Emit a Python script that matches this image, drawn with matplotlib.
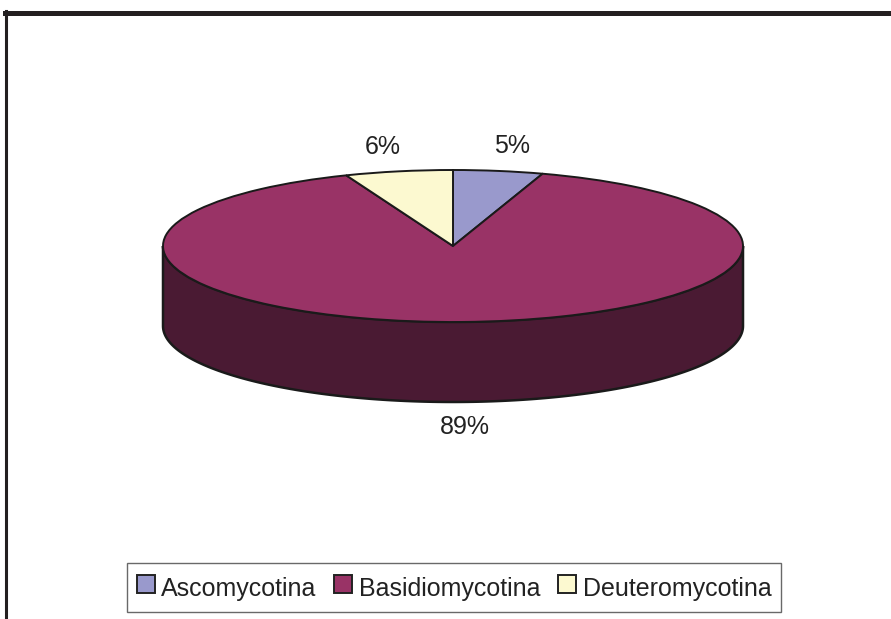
import numpy as np
import matplotlib
matplotlib.use("Agg")
import matplotlib.pyplot as plt
from matplotlib.patches import Polygon
from matplotlib.lines import Line2D

plt.rcParams['font.family'] = ['Liberation Sans', 'DejaVu Sans']

labels = ['Ascomycotina', 'Basidiomycotina', 'Deuteromycotina']
values = [5, 89, 6]
pct_labels = ['5%', '89%', '6%']
top_colors = ['#9999cc', '#993366', '#fcf9d0']
side_colors = ['#4d4d66', '#4a1a33', '#7e7c68']

W, H = 891, 619
fig = plt.figure(figsize=(W / 100, H / 100), dpi=100)

# ellipse geometry in pixels
cx, cy, rx, ry, depth = 453, 246, 290, 76, 80
d = depth / ry  # depth in data units
left = (cx - rx) / W
bottom = (H - (cy + ry + depth)) / H
ax = fig.add_axes([left, bottom, 2 * rx / W, (2 * ry + depth) / H])

wedges, _ = ax.pie(values, colors=top_colors, startangle=90, counterclock=False,
                   wedgeprops=dict(edgecolor='#1a1a1a', linewidth=1.4))
ax.set_aspect('auto')
ax.set_xlim(-1, 1)
ax.set_ylim(-1 - d, 1)
for w in wedges:
    w.set_zorder(3)

# visible front side of the cylinder
for w, col in zip(wedges, side_colors):
    t1, t2 = sorted([w.theta1, w.theta2])
    for k in range(-1, 2):
        lo = max(t1, 180 + 360 * k)
        hi = min(t2, 360 + 360 * k)
        if hi <= lo:
            continue
        th = np.radians(np.linspace(lo, hi, 200))
        xs = np.cos(th)
        ys = np.sin(th)
        pts = np.concatenate([np.column_stack([xs, ys]),
                              np.column_stack([xs[::-1], ys[::-1] - d])])
        ax.add_patch(Polygon(pts, closed=True, facecolor=col, edgecolor='#1a1a1a',
                             linewidth=1.8, zorder=2, clip_on=False))

# percentage labels
for w, txt in zip(wedges, pct_labels):
    mid = np.radians((w.theta1 + w.theta2) / 2)
    x = 1.3 * np.cos(mid)
    y = 1.33 * np.sin(mid)
    if y < 0:
        y -= d
    ax.text(x, y, txt, ha='center', va='center', fontsize=18, color='#222222',
            clip_on=False)

# legend
handles = [Line2D([], [], linestyle='none', marker='s', markersize=13,
                  markerfacecolor=c, markeredgecolor='#222222', markeredgewidth=1.4)
           for c in top_colors]
leg = fig.legend(handles, labels, loc='center', ncol=3,
                 bbox_to_anchor=(454 / W, 1 - 587.5 / H), fontsize=18,
                 frameon=True, fancybox=False, handlelength=0.75, handleheight=1.55,
                 handletextpad=0.25, columnspacing=0.7, borderpad=0.35,
                 borderaxespad=0)
leg.get_frame().set_edgecolor('#444444')
leg.get_frame().set_linewidth(1.0)
for t in leg.get_texts():
    t.set_color('#222222')

# outer frame (only top and left visible)
fig.add_artist(Line2D([5 / W, 1.0], [1 - 12.5 / H, 1 - 12.5 / H],
                      transform=fig.transFigure, color='#231f20', linewidth=3.6))
fig.add_artist(Line2D([6 / W, 6 / W], [0, 1 - 11 / H],
                      transform=fig.transFigure, color='#231f20', linewidth=2.2))

fig.savefig('out.png', dpi=100, facecolor='white')
